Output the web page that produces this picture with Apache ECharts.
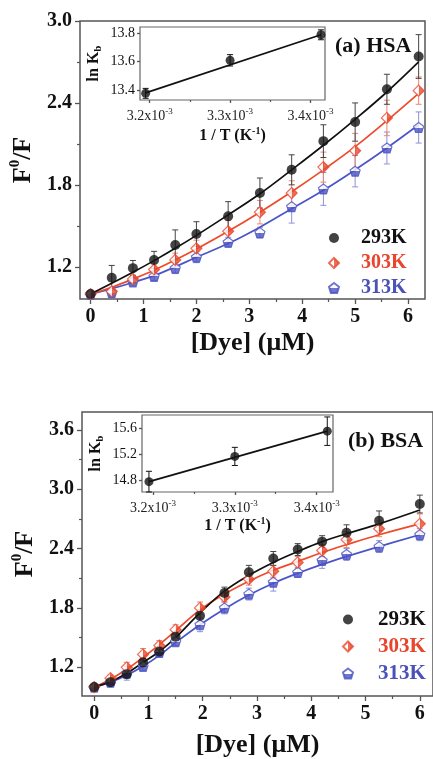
<!DOCTYPE html>
<html>
<head>
<meta charset="utf-8">
<script src="https://cdn.jsdelivr.net/npm/echarts@6/dist/echarts.min.js"></script>
<style>
html,body{margin:0;padding:0;background:#fff}
#main{width:433px;height:759px}
</style>
</head>
<body>
<div id="main"></div>
<script>
// (a) HSA  -- F0/F vs [Dye]
var dyeA=[0,0.4,0.8,1.2,1.6,2.0,2.6,3.2,3.8,4.4,5.0,5.6,6.2];
var hsa293=[1.0,1.12,1.19,1.25,1.36,1.44,1.57,1.74,1.91,2.12,2.26,2.50,2.74];
var hsa303=[1.0,1.02,1.11,1.18,1.25,1.335,1.46,1.60,1.74,1.93,2.05,2.29,2.49];
var hsa313=[1.0,1.01,1.09,1.13,1.19,1.27,1.38,1.45,1.64,1.77,1.90,2.07,2.22];
var hsa293Err=[0.02,0.09,0.056,0.063,0.11,0.09,0.107,0.11,0.11,0.12,0.14,0.11,0.16];
var hsa303Err=[0.02,0.03,0.03,0.04,0.05,0.06,0.078,0.086,0.09,0.11,0.127,0.13,0.10];
var hsa313Err=[0.02,0.03,0.03,0.03,0.04,0.04,0.036,0.04,0.12,0.12,0.115,0.117,0.114];
var hsa293Fit=[1.0,1.08,1.16,1.245,1.335,1.43,1.58,1.735,1.91,2.09,2.28,2.48,2.70];
var hsa303Fit=[1.0,1.05,1.11,1.175,1.25,1.33,1.46,1.60,1.75,1.91,2.08,2.27,2.47];
var hsa313Fit=[1.0,1.04,1.085,1.135,1.20,1.27,1.37,1.49,1.625,1.76,1.91,2.07,2.24];

// (b) BSA
var dyeB=[0,0.3,0.6,0.9,1.2,1.5,1.95,2.4,2.85,3.3,3.75,4.2,4.65,5.25,6.0];
var bsa293=[1.0,1.05,1.13,1.25,1.36,1.51,1.72,1.95,2.16,2.30,2.39,2.47,2.56,2.68,2.85];
var bsa303=[1.0,1.09,1.20,1.33,1.42,1.58,1.80,1.91,2.09,2.17,2.26,2.38,2.49,2.60,2.65];
var bsa313=[1.0,1.05,1.14,1.21,1.35,1.46,1.63,1.80,1.94,2.06,2.16,2.28,2.34,2.42,2.54];
var bsa293Err=[0.02,0.02,0.03,0.04,0.04,0.05,0.06,0.06,0.07,0.07,0.06,0.06,0.08,0.10,0.09];
var bsa303Err=[0.02,0.03,0.05,0.06,0.05,0.05,0.06,0.05,0.06,0.06,0.06,0.06,0.08,0.08,0.10];
var bsa313Err=[0.02,0.02,0.07,0.04,0.04,0.04,0.07,0.06,0.06,0.09,0.05,0.08,0.06,0.06,0.06];
var bsa293Fit=[1.0,1.055,1.14,1.25,1.36,1.50,1.75,1.97,2.13,2.26,2.37,2.47,2.55,2.65,2.79];
var bsa303Fit=[1.0,1.08,1.18,1.30,1.43,1.57,1.78,1.94,2.07,2.18,2.27,2.36,2.44,2.54,2.65];
var bsa313Fit=[1.0,1.05,1.12,1.21,1.32,1.45,1.63,1.79,1.93,2.05,2.15,2.24,2.32,2.42,2.54];

// insets: ln Kb vs 1/T (x10^-3)
var invT=[3.195,3.300,3.413];
var lnKbHSA=[13.377,13.61,13.79];
var lnKbHSAErr=[0.035,0.04,0.035];
var lnKbBSA=[14.78,15.17,15.56];
var lnKbBSAErr=[0.16,0.14,0.22];
var fitInvT=[3.195,3.413];
var lnKbHSAFit=[13.38,13.79];
var lnKbBSAFit=[14.78,15.56];

// ticks
var dyeTicks=[0,1,2,3,4,5,6];
var dyeMinor=[0.5,1.5,2.5,3.5,4.5,5.5];
var hsaTicks=[1.2,1.8,2.4,3.0];
var hsaMinor=[1.5,2.1,2.7];
var bsaTicks=[1.2,1.8,2.4,3.0,3.6];
var bsaMinor=[1.5,2.1,2.7,3.3];
var invTTicks=[3.2,3.3,3.4];
var invTMinor=[3.25,3.35];
var lnHSATicks=[13.4,13.6,13.8];
var lnBSATicks=[14.8,15.2,15.6];

var names=['293K','303K','313K'];
var markColor=['#141414','#e84a2f','#4a53c2'];
var errColor=['#444','#f08470','#8c92d8'];
var lineColor=['#111','#ee4a2c','#4b55c8'];
var textColor=['#111','#e8452c','#4a52b8'];

var serif="'Liberation Serif','Times New Roman',serif";

var diamond='path://M5,0L10,5L5,10L0,5Z';
var pentagon='path://M5,0L10,3.8L8.1,10L1.9,10L0,3.8Z';
var symStyle=[
  {symbol:'circle',size:10,style:{color:markColor[0]}},
  {symbol:diamond,size:11,style:{
    color:{type:'linear',x:0,y:0,x2:1,y2:0,colorStops:[
      {offset:0,color:'#fff'},{offset:0.5,color:'#fff'},{offset:0.5,color:markColor[1]},{offset:1,color:markColor[1]}]},
    borderColor:markColor[1],borderWidth:1.2}},
  {symbol:pentagon,size:10,style:{
    color:{type:'linear',x:0,y:0,x2:0,y2:1,colorStops:[
      {offset:0,color:'#fff'},{offset:0.5,color:'#fff'},{offset:0.5,color:markColor[2]},{offset:1,color:markColor[2]}]},
    borderColor:markColor[2],borderWidth:1.2}}
];

function pairs(xs,ys){return xs.map(function(x,i){return [x,ys[i]];});}

function errBars(ax,xs,ys,es,color,cap){
  return {
    type:'custom',xAxisIndex:ax,yAxisIndex:ax,silent:true,z:2,
    data:xs.map(function(x,i){return [x,ys[i],es[i]];}),
    renderItem:function(params,api){
      var x=api.value(0),y=api.value(1),e=api.value(2);
      var hi=api.coord([x,y+e]),lo=api.coord([x,y-e]);
      var st={stroke:color,lineWidth:1};
      return {type:'group',children:[
        {type:'line',shape:{x1:hi[0],y1:hi[1],x2:lo[0],y2:lo[1]},style:st},
        {type:'line',shape:{x1:hi[0]-cap,y1:hi[1],x2:hi[0]+cap,y2:hi[1]},style:st},
        {type:'line',shape:{x1:lo[0]-cap,y1:lo[1],x2:lo[0]+cap,y2:lo[1]},style:st}
      ]};
    }
  };
}

function fitLine(ax,xs,ys,color,smooth){
  return {type:'line',xAxisIndex:ax,yAxisIndex:ax,data:pairs(xs,ys),showSymbol:false,symbol:'none',
    smooth:smooth,silent:true,z:3,lineStyle:{color:color,width:1.7}};
}

function points(ax,name,xs,ys,k){
  return {type:'scatter',name:name,xAxisIndex:ax,yAxisIndex:ax,data:pairs(xs,ys),
    symbol:symStyle[k].symbol,symbolSize:symStyle[k].size,itemStyle:symStyle[k].style,z:4,silent:true};
}

// each panel axis = a main axis plus an overlaid one carrying the minor ticks
function axisPair(grid,pos,min,max,ticks,minor,lab,len,fmt){
  var major={type:'value',gridIndex:grid,position:pos,min:min,max:max,
    axisLine:{show:false,onZero:false},splitLine:{show:false},
    axisTick:{show:true,customValues:ticks,length:len,lineStyle:{color:'#555',width:1.3}},
    axisLabel:{show:true,customValues:ticks,color:'#111',fontFamily:serif,
      fontSize:lab.size,fontWeight:lab.weight,margin:lab.margin,formatter:fmt,rich:lab.rich}};
  var mn={type:'value',gridIndex:grid,position:pos,min:min,max:max,
    axisLine:{show:false,onZero:false},splitLine:{show:false},axisLabel:{show:false},
    axisTick:{show:minor.length>0,customValues:minor,length:Math.round(len*0.6),lineStyle:{color:'#555',width:1.2}}};
  return [major,mn];
}

var mainX={size:20,weight:'bold',margin:8};
var mainY={size:20,weight:'bold',margin:8};
var supRich={a:{fontSize:14,fontFamily:serif,color:'#222',lineHeight:18},
             s:{fontSize:9,fontFamily:serif,color:'#222',verticalAlign:'top',lineHeight:9}};
var insX={size:14,weight:'normal',margin:7,rich:supRich};
var insY={size:14,weight:'normal',margin:5};
function invTFmt(v){return '{a|'+v.toFixed(1)+'x10}{s|-3}';}
function oneDec(v){return v.toFixed(1);}

var xA=axisPair(0,'bottom',-0.2,6.32,dyeTicks,dyeMinor,mainX,5,null);
var yA=axisPair(0,'left',0.964,3.0,hsaTicks,hsaMinor,mainY,5,oneDec);
var xAi=axisPair(1,'bottom',3.188,3.418,invTTicks,invTMinor,insX,3,invTFmt);
var yAi=axisPair(1,'left',13.33,13.845,lnHSATicks,[],insY,3,oneDec);
var xB=axisPair(2,'bottom',-0.225,6.243,dyeTicks,dyeMinor,mainX,5,null);
var yB=axisPair(2,'left',0.91,3.78,bsaTicks,bsaMinor,mainY,5,oneDec);
var xBi=axisPair(3,'bottom',3.1865,3.42,invTTicks,invTMinor,insX,3,invTFmt);
var yBi=axisPair(3,'left',14.62,15.81,lnBSATicks,[],insY,3,oneDec);

var dyeName={name:'[Dye] (\u03bcM)',nameLocation:'middle',
  nameTextStyle:{fontFamily:serif,fontSize:26,fontWeight:'bold',color:'#111'}};
var fName={name:'{a|F}{s|0}{a|/F}',nameLocation:'middle',nameRotate:90,
  nameTextStyle:{rich:{a:{fontFamily:serif,fontSize:26,fontWeight:'bold',color:'#111',lineHeight:30},
    s:{fontFamily:serif,fontSize:15,fontWeight:'bold',color:'#111',verticalAlign:'top',lineHeight:15}}}};
var tName={name:'{a|1 / T (K}{s|-1}{a|)}',nameLocation:'middle',
  nameTextStyle:{rich:{a:{fontFamily:serif,fontSize:16,fontWeight:'bold',color:'#111',lineHeight:20},
    s:{fontFamily:serif,fontSize:10,fontWeight:'bold',color:'#111',verticalAlign:'top',lineHeight:10}}}};
var kName={name:'{a|ln K}{b|b}',nameLocation:'middle',nameRotate:90,
  nameTextStyle:{rich:{a:{fontFamily:serif,fontSize:16,fontWeight:'bold',color:'#111',lineHeight:20},
    b:{fontFamily:serif,fontSize:11,fontWeight:'bold',color:'#111',verticalAlign:'bottom',lineHeight:11}}}};

Object.assign(xA[0],dyeName,{nameGap:31});
Object.assign(xB[0],dyeName,{nameGap:36});
Object.assign(yA[0],fName,{nameGap:34});
Object.assign(yB[0],fName,{nameGap:35});
Object.assign(xAi[0],tName,{nameGap:26});
Object.assign(xBi[0],tName,{nameGap:24});
Object.assign(yAi[0],kName,{nameGap:36});
Object.assign(yBi[0],kName,{nameGap:36});

var chart=echarts.init(document.getElementById('main'),null,{renderer:'canvas'});

// axis order: 0,1 top main | 2,3 top inset | 4,5 bottom main | 6,7 bottom inset
var series=[];
var hsaY=[hsa293,hsa303,hsa313],hsaE=[hsa293Err,hsa303Err,hsa313Err],hsaF=[hsa293Fit,hsa303Fit,hsa313Fit];
var bsaY=[bsa293,bsa303,bsa313],bsaE=[bsa293Err,bsa303Err,bsa313Err],bsaF=[bsa293Fit,bsa303Fit,bsa313Fit];
for(var k=2;k>=0;k--){
  series.push(errBars(0,dyeA,hsaY[k],hsaE[k],errColor[k],3));
  series.push(fitLine(0,dyeA,hsaF[k],lineColor[k],0.4));
  series.push(points(0,names[k],dyeA,hsaY[k],k));
  series.push(errBars(4,dyeB,bsaY[k],bsaE[k],errColor[k],3));
  series.push(fitLine(4,dyeB,bsaF[k],lineColor[k],0.4));
  series.push(points(4,names[k],dyeB,bsaY[k],k));
}
function insetSeries(ax,ys,es,fit){
  return [
    errBars(ax,invT,ys,es,'#111',3),
    fitLine(ax,fitInvT,fit,'#111',false),
    {type:'scatter',xAxisIndex:ax,yAxisIndex:ax,data:pairs(invT,ys),symbol:'circle',symbolSize:9,
      itemStyle:{color:'#111'},z:4,silent:true}
  ];
}
series=series.concat(insetSeries(2,lnKbHSA,lnKbHSAErr,lnKbHSAFit));
series=series.concat(insetSeries(6,lnKbBSA,lnKbBSAErr,lnKbBSAFit));

// legend: icon box 10x10, text pushed right with left padding
function legend(left,top,size,pad,gap){
  return {orient:'vertical',left:left,top:top,padding:0,itemWidth:10,itemHeight:10,itemGap:gap,
    selectedMode:false,symbolKeepAspect:true,
    data:names.map(function(n,i){return {name:n,textStyle:{color:textColor[i]}};}),
    textStyle:{fontFamily:serif,fontSize:size,fontWeight:'bold',lineHeight:20,padding:[0,0,0,pad]}};
}

var option={
  backgroundColor:'#fff',
  animation:false,
  title:[
    {text:'(a) HSA',left:335,top:35,padding:0,textStyle:{fontFamily:serif,fontSize:22,fontWeight:'bold',color:'#111'}},
    {text:'(b) BSA',left:348,top:430,padding:0,textStyle:{fontFamily:serif,fontSize:22,fontWeight:'bold',color:'#111'}}
  ],
  legend:[legend(328,228,20,17,5),legend(342,609,21,20,6)],
  grid:[
    {left:80,top:21,width:345,height:278,show:true,borderColor:'#555',borderWidth:1.5,backgroundColor:'transparent'},
    {left:140,top:27,width:185,height:73,show:true,borderColor:'#666',borderWidth:1.2,backgroundColor:'#fff'},
    {left:82,top:412,width:356,height:284,show:true,borderColor:'#555',borderWidth:1.5,backgroundColor:'transparent'},
    {left:142,top:415,width:191,height:77,show:true,borderColor:'#666',borderWidth:1.2,backgroundColor:'#fff'}
  ],
  xAxis:[xA[0],xA[1],xAi[0],xAi[1],xB[0],xB[1],xBi[0],xBi[1]],
  yAxis:[yA[0],yA[1],yAi[0],yAi[1],yB[0],yB[1],yBi[0],yBi[1]],
  series:series
};
chart.setOption(option);
</script>
</body>
</html>
